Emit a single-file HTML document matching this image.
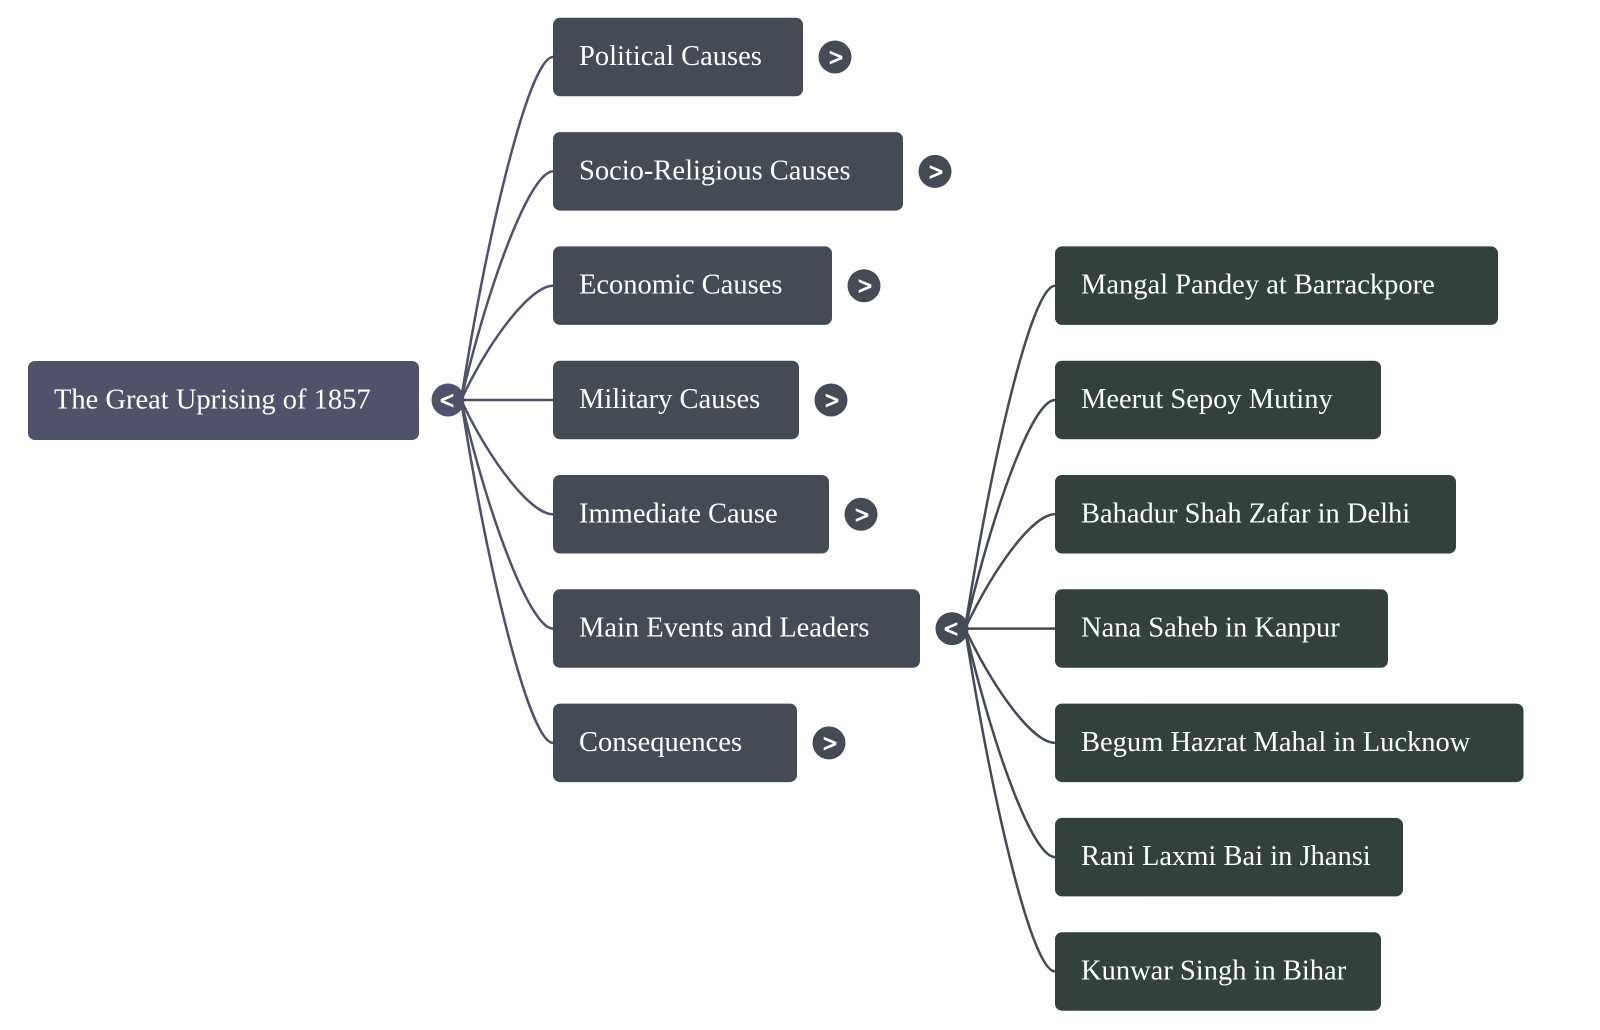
<!DOCTYPE html>
<html>
<head>
<meta charset="utf-8">
<style>
  html, body { margin: 0; padding: 0; background: #ffffff; }
  body { width: 1600px; height: 1030px; overflow: hidden; }
  svg { display: block; }
  .t { font-family: "Liberation Serif", "Times New Roman", serif; font-size: 28.5px; fill: #ffffff; }
  .c { font-family: "Liberation Sans", Arial, sans-serif; font-size: 24px; fill: #ffffff; text-anchor: middle; stroke: #ffffff; stroke-width: 0.9; }
</style>
</head>
<body>
<svg width="1600" height="1030" viewBox="0 0 1600 1030" xmlns="http://www.w3.org/2000/svg">
  <!-- connectors from root -->
  <g fill="none" stroke="#4f5268" stroke-width="2.5" stroke-linecap="round">
    <path d="M 461 400 C 491 211.4 531 57 553 57"/>
    <path d="M 461 400 C 491 274.3 531 171.4 553 171.4"/>
    <path d="M 461 400 C 491 337.1 531 285.7 553 285.7"/>
    <path d="M 461 400 L 553 400"/>
    <path d="M 461 400 C 491 462.9 531 514.3 553 514.3"/>
    <path d="M 461 400 C 491 525.7 531 628.6 553 628.6"/>
    <path d="M 461 400 C 491 588.6 531 742.9 553 742.9"/>
  </g>
  <!-- connectors from Main Events -->
  <g fill="none" stroke="#444b55" stroke-width="2.5" stroke-linecap="round">
    <path d="M 965 628.6 C 995 440 1033 285.7 1055 285.7"/>
    <path d="M 965 628.6 C 995 502.9 1033 400 1055 400"/>
    <path d="M 965 628.6 C 995 565.7 1033 514.3 1055 514.3"/>
    <path d="M 965 628.6 L 1055 628.6"/>
    <path d="M 965 628.6 C 995 691.5 1033 742.9 1055 742.9"/>
    <path d="M 965 628.6 C 995 754.3 1033 857.1 1055 857.1"/>
    <path d="M 965 628.6 C 995 817.1 1033 971.4 1055 971.4"/>
  </g>

  <!-- root -->
  <rect x="28" y="361" width="391" height="79" rx="7" ry="7" fill="#4f5268"/>
  <text class="t" x="54" y="408.3">The Great Uprising of 1857</text>
  <circle cx="448" cy="400" r="16.5" fill="#4f5268"/>
  <text class="c" x="447" y="408.5">&lt;</text>

  <!-- level 1 -->
  <g fill="#444b55">
    <rect x="553" y="17.8" width="250" height="78.5" rx="7" ry="7"/>
    <rect x="553" y="132.1" width="350" height="78.5" rx="7" ry="7"/>
    <rect x="553" y="246.4" width="279" height="78.5" rx="7" ry="7"/>
    <rect x="553" y="360.7" width="246" height="78.5" rx="7" ry="7"/>
    <rect x="553" y="475" width="276" height="78.5" rx="7" ry="7"/>
    <rect x="553" y="589.3" width="367" height="78.5" rx="7" ry="7"/>
    <rect x="553" y="703.6" width="244" height="78.5" rx="7" ry="7"/>
  </g>
  <text class="t" x="579" y="65">Political Causes</text>
  <text class="t" x="579" y="179.4">Socio-Religious Causes</text>
  <text class="t" x="579" y="293.7">Economic Causes</text>
  <text class="t" x="579" y="408">Military Causes</text>
  <text class="t" x="579" y="522.3">Immediate Cause</text>
  <text class="t" x="579" y="636.6">Main Events and Leaders</text>
  <text class="t" x="579" y="750.9">Consequences</text>

  <!-- level 1 expanders -->
  <g fill="#444b55">
    <circle cx="835" cy="57" r="16.5"/>
    <circle cx="935" cy="171.4" r="16.5"/>
    <circle cx="864" cy="285.7" r="16.5"/>
    <circle cx="831" cy="400" r="16.5"/>
    <circle cx="861" cy="514.3" r="16.5"/>
    <circle cx="952" cy="628.6" r="16.5"/>
    <circle cx="829" cy="742.9" r="16.5"/>
  </g>
  <text class="c" x="836" y="65.5">&gt;</text>
  <text class="c" x="936" y="179.9">&gt;</text>
  <text class="c" x="865" y="294.2">&gt;</text>
  <text class="c" x="832" y="408.5">&gt;</text>
  <text class="c" x="862" y="522.8">&gt;</text>
  <text class="c" x="951" y="637.1">&lt;</text>
  <text class="c" x="830" y="751.4">&gt;</text>

  <!-- level 2 -->
  <g fill="#32403e">
    <rect x="1055" y="246.4" width="443" height="78.5" rx="7" ry="7"/>
    <rect x="1055" y="360.7" width="326" height="78.5" rx="7" ry="7"/>
    <rect x="1055" y="475" width="401" height="78.5" rx="7" ry="7"/>
    <rect x="1055" y="589.3" width="333" height="78.5" rx="7" ry="7"/>
    <rect x="1055" y="703.6" width="468.5" height="78.5" rx="7" ry="7"/>
    <rect x="1055" y="817.9" width="348" height="78.5" rx="7" ry="7"/>
    <rect x="1055" y="932.2" width="326" height="78.5" rx="7" ry="7"/>
  </g>
  <text class="t" x="1081" y="293.7">Mangal Pandey at Barrackpore</text>
  <text class="t" x="1081" y="408">Meerut Sepoy Mutiny</text>
  <text class="t" x="1081" y="522.3">Bahadur Shah Zafar in Delhi</text>
  <text class="t" x="1081" y="636.6">Nana Saheb in Kanpur</text>
  <text class="t" x="1081" y="750.9">Begum Hazrat Mahal in Lucknow</text>
  <text class="t" x="1081" y="865.2">Rani Laxmi Bai in Jhansi</text>
  <text class="t" x="1081" y="979.5">Kunwar Singh in Bihar</text>
</svg>
</body>
</html>
